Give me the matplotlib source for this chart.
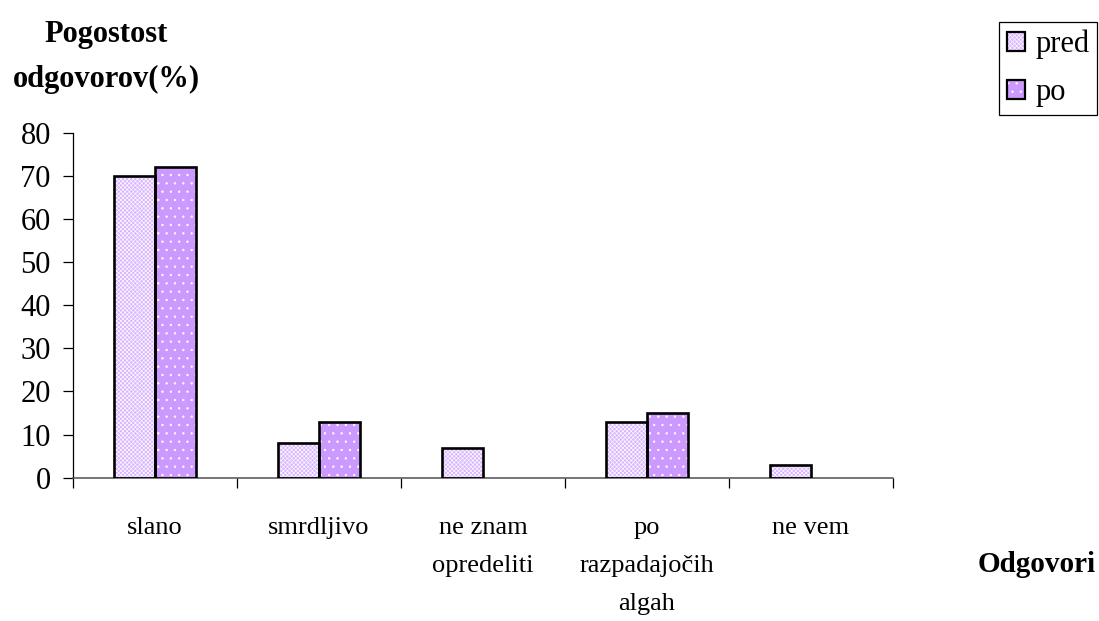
import matplotlib.pyplot as plt
import numpy as np
from matplotlib.patches import Patch
from matplotlib.legend_handler import HandlerTuple

# odgovori in deleži (%) pred in po
kategorije = ["slano", "smrdljivo", "ne znam\nopredeliti", "po\nrazpadajočih\nalgah", "ne vem"]
pred = [70, 8, 7, 13, 3]
po = [72, 13, 0, 15, 0]
serije = ["pred", "po"]

plt.rcParams["font.family"] = ["Liberation Serif", "DejaVu Serif"]
plt.rcParams["hatch.linewidth"] = 0.45

barve = {"pred": "#d9b6ff", "po": "#cc99ff"}
vzorci = {"pred": "xxxxxxxx", "po": ".."}

fig = plt.figure(figsize=(10.99, 6.21), dpi=100)
ax = fig.add_axes([73 / 1099, 1 - 477.7 / 621, 820 / 1099, 345 / 621])

x = np.arange(len(kategorije))
w = 0.25
for i, (ime, vrednosti) in enumerate(zip(serije, [pred, po])):
    pos = x + (i - 0.5) * w
    vrednosti = np.array(vrednosti, dtype=float)
    # polnilo z belim vzorcem, nato črn obris posebej
    ax.bar(pos, vrednosti, w, color=barve[ime], hatch=vzorci[ime],
           edgecolor="white", linewidth=0, zorder=2)
    lw = [1.9 if v > 0 else 0 for v in vrednosti]
    ax.bar(pos, vrednosti, w, fill=False, edgecolor="black",
           linewidth=lw, zorder=3)

ax.set_xlim(-0.5, len(kategorije) - 0.5)
ax.set_ylim(0, 80)
ax.set_yticks(np.arange(0, 81, 10))
ax.tick_params(axis="y", labelsize=22, length=7, width=0.9, pad=9)

ax.set_xticks(x)
ax.set_xticklabels(kategorije, fontsize=19, linespacing=1.95)
ax.set_xticks(np.arange(-0.5, len(kategorije)), minor=True)
ax.tick_params(axis="x", which="major", length=0, pad=28)
ax.tick_params(axis="x", which="minor", length=7, width=0.9)

for s in ["top", "right"]:
    ax.spines[s].set_visible(False)
ax.spines["left"].set_linewidth(0.9)
ax.spines["bottom"].set_linewidth(1.1)
ax.spines["bottom"].set_color("#505050")

fig.text(106 / 1099, 1 - 57 / 621, "Pogostost\nodgovorov(%)", fontsize=22,
         fontweight="bold", ha="center", va="center", multialignment="center",
         linespacing=1.75)
fig.text(1037 / 1099, 1 - 564 / 621, "Odgovori", fontsize=21,
         fontweight="bold", ha="center", va="center")

rocaji = []
for ime in serije:
    polnilo = Patch(facecolor=barve[ime], hatch=vzorci[ime], edgecolor="white", linewidth=0)
    obris = Patch(fill=False, edgecolor="black", linewidth=1.6)
    rocaji.append((polnilo, obris))

leg = fig.legend(rocaji, serije, loc="upper left",
                 bbox_to_anchor=(999 / 1099, 1 - 22 / 621),
                 handler_map={tuple: HandlerTuple(ndivide=1)},
                 fontsize=22, frameon=True, fancybox=False, framealpha=1,
                 borderaxespad=0, borderpad=0.25, handlelength=0.6,
                 handleheight=0.6, handletextpad=0.35, labelspacing=0.62)
leg.get_frame().set_edgecolor("black")
leg.get_frame().set_linewidth(0.9)

fig.savefig("out.png", dpi=100)
